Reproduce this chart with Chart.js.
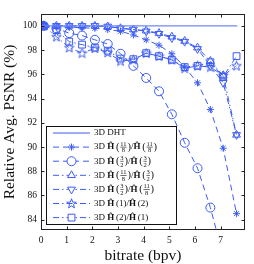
<!DOCTYPE html>
<html>
<head>
<meta charset="utf-8">
<script src="https://cdn.jsdelivr.net/npm/chart.js@4/dist/chart.umd.min.js"></script>
<style>
html, body { margin: 0; padding: 0; background: #fff; }
</style>
</head>
<body>
<canvas id="psnrChart" width="254" height="264"></canvas>
<script>
// data
const bitrate = [0.1, 0.6, 1.1, 1.6, 2.1, 2.6, 3.1, 3.6, 4.1, 4.6, 5.1, 5.6, 6.1, 6.6, 7.1, 7.62];
const dhtX = [0, 7.65];
const dhtY = [100, 100];
const h118_118 = [100, 99.95, 99.9, 99.85, 99.8, 99.7, 99.55, 99.25, 98.85, 98.4, 97.7, 96.6, 95.3, 93.1, 89.9, 84.5];
const h32_32   = [100, 99.8, 99.4, 99.2, 98.85, 98.5, 97.7, 96.7, 95.7, 94.6, 92.7, 90.35, 88.25, 85.0, 81.0];
const h118_32  = [100, 100, 100, 100, 100, 99.95, 99.8, 99.7, 99.6, 99.4, 99.1, 98.75, 98.2, 97.1, 95.9, 91.0];
const h32_118  = [100, 100, 100, 100, 100, 99.95, 99.8, 99.7, 99.55, 99.35, 99.0, 98.7, 98.1, 96.7, 95.3, 91.0];
const h1_2     = [100, 99.1, 98.2, 97.75, 98.15, 97.8, 97.1, 97.2, 97.75, 97.5, 97.2, 96.5, 96.7, 96.6, 95.9, 96.7];
const h2_1     = [100, 99.65, 98.7, 98.45, 98.2, 97.95, 97.3, 97.25, 97.75, 97.5, 97.2, 96.6, 96.7, 97.0, 95.8, 97.5];

const xTicks = [0, 1, 2, 3, 4, 5, 6, 7];
const yTicks = [84, 86, 88, 90, 92, 94, 96, 98, 100];

// legend arguments of H-hat (null = DHT)
const legendArgs = [null, ["11/8", "11/8"], ["3/2", "3/2"], ["11/8", "3/2"], ["3/2", "11/8"], ["1", "2"], ["2", "1"]];

const blue = "rgb(60,92,245)";
const serif = "'Liberation Serif', 'DejaVu Serif', serif";

// pentagram marker
const starImg = document.createElement("canvas");
starImg.width = 11;
starImg.height = 11;
(function () {
    const c = starImg.getContext("2d");
    c.strokeStyle = blue;
    c.lineWidth = 1;
    c.beginPath();
    for (let i = 0; i < 10; i++) {
        const r = i % 2 === 0 ? 5 : 2.1;
        const a = -Math.PI / 2 + i * Math.PI / 5;
        const px = 5.5 + r * Math.cos(a);
        const py = 5.8 + r * Math.sin(a);
        if (i === 0) c.moveTo(px, py); else c.lineTo(px, py);
    }
    c.closePath();
    c.stroke();
})();

function pts(xs, ys) {
    return ys.map((v, i) => ({ x: xs[i], y: v }));
}

function series(ys, style, dash, radius, rotation) {
    return {
        data: pts(bitrate, ys),
        borderColor: blue,
        backgroundColor: "transparent",
        borderWidth: 1,
        borderDash: dash,
        pointStyle: style,
        pointRadius: radius,
        pointRotation: rotation || 0,
        pointBorderColor: blue,
        pointBackgroundColor: "transparent",
        pointBorderWidth: 1,
        tension: 0,
        fill: false
    };
}

const dashed = [6, 4];
const dashDot = [6, 3, 1.5, 3];

const datasets = [
    {
        data: pts(dhtX, dhtY),
        borderColor: "rgb(110,135,250)",
        borderWidth: 1.2,
        pointRadius: 0,
        fill: false
    },
    series(h118_118, "star", dashed, 3.5),
    series(h32_32, "circle", dashed, 4.5),
    series(h118_32, "triangle", dashDot, 4.5),
    series(h32_118, "triangle", dashDot, 4.5, 180),
    series(h1_2, starImg, dashDot, 5),
    series(h2_1, "rect", dashDot, 4.8)
];

function drawArg(ctx, arg, x, y, fs) {
    if (arg.indexOf("/") < 0) {
        ctx.font = fs + "px " + serif;
        ctx.fillText("(" + arg + ")", x, y);
        return x + ctx.measureText("(" + arg + ")").width;
    }
    const [num, den] = arg.split("/");
    ctx.font = (fs + 1.5) + "px " + serif;
    ctx.fillText("(", x, y);
    x += ctx.measureText("(").width + 0.8;
    ctx.font = (fs - 2.5) + "px " + serif;
    const w = Math.max(ctx.measureText(num).width, ctx.measureText(den).width);
    ctx.textAlign = "center";
    ctx.fillText(num, x + w / 2, y - 3.2);
    ctx.fillText(den, x + w / 2, y + 3.6);
    ctx.textAlign = "left";
    ctx.fillRect(x, y - 0.3, w, 0.6);
    x += w + 0.8;
    ctx.font = (fs + 1.5) + "px " + serif;
    ctx.fillText(")", x, y);
    return x + ctx.measureText(")").width;
}

const framePlugin = {
    id: "frame",
    afterDatasetsDraw(chart) {
        const ctx = chart.ctx;
        const a = chart.chartArea;
        const xs = chart.scales.x;
        const ys = chart.scales.y;
        const L = Math.round(a.left) + 0.5, R = Math.round(a.right) - 0.5;
        const T = Math.round(a.top) + 0.5, B = Math.round(a.bottom) - 0.5;
        ctx.save();
        ctx.strokeStyle = "#222";
        ctx.lineWidth = 1;
        ctx.beginPath();
        xTicks.forEach(v => {
            const px = Math.round(xs.getPixelForValue(v)) + 0.5;
            ctx.moveTo(px, B); ctx.lineTo(px, B - 3);
            ctx.moveTo(px, T); ctx.lineTo(px, T + 3);
        });
        yTicks.forEach(v => {
            const py = Math.round(ys.getPixelForValue(v)) + 0.5;
            ctx.moveTo(L, py); ctx.lineTo(L + 3, py);
            ctx.moveTo(R, py); ctx.lineTo(R - 3, py);
        });
        ctx.stroke();

        // legend box
        const bx = 46.5, by = 126.5, bw = 130, bh = 98;
        ctx.fillStyle = "#fff";
        ctx.fillRect(bx, by, bw, bh);
        ctx.strokeStyle = "#111";
        ctx.strokeRect(bx, by, bw, bh);

        const fs = 9;
        chart.data.datasets.forEach((ds, i) => {
            const ry = 133 + i * 14.1;
            ctx.strokeStyle = blue;
            ctx.lineWidth = 1;
            ctx.setLineDash(ds.borderDash || []);
            ctx.beginPath();
            ctx.moveTo(53, ry);
            ctx.lineTo(90, ry);
            ctx.stroke();
            ctx.setLineDash([]);
            if (ds.pointRadius) {
                ctx.fillStyle = "#fff";
                Chart.helpers.drawPoint(ctx, {
                    pointStyle: ds.pointStyle,
                    radius: ds.pointRadius,
                    rotation: ds.pointRotation,
                    borderWidth: 1
                }, 71.5, ry);
            }
            ctx.fillStyle = "#111";
            ctx.textBaseline = "middle";
            ctx.textAlign = "left";
            let x = 94;
            const args = legendArgs[i];
            ctx.font = fs + "px " + serif;
            if (!args) {
                ctx.fillText("3D DHT", x, ry);
                return;
            }
            ctx.fillText("3D ", x, ry);
            x += ctx.measureText("3D ").width;
            ctx.font = "bold " + fs + "px " + serif;
            ctx.fillText("\u0124", x, ry);
            x += ctx.measureText("\u0124").width + 1.8;
            x = drawArg(ctx, args[0], x, ry, fs);
            ctx.font = fs + "px " + serif;
            ctx.fillText("/", x, ry);
            x += ctx.measureText("/").width;
            ctx.font = "bold " + fs + "px " + serif;
            ctx.fillText("\u0124", x, ry);
            x += ctx.measureText("\u0124").width + 1.8;
            drawArg(ctx, args[1], x, ry, fs);
        });
        ctx.restore();
    },
    afterDraw(chart) {
        const ctx = chart.ctx;
        const a = chart.chartArea;
        ctx.save();
        ctx.strokeStyle = "#222";
        ctx.lineWidth = 1;
        ctx.strokeRect(Math.round(a.left) + 0.5, Math.round(a.top) + 0.5,
            Math.round(a.right) - Math.round(a.left) - 1, Math.round(a.bottom) - Math.round(a.top) - 1);
        ctx.restore();
    }
};

new Chart(document.getElementById("psnrChart"), {
    type: "line",
    data: { datasets: datasets },
    options: {
        responsive: false,
        animation: false,
        layout: { padding: { top: 14, right: 9, left: 0, bottom: 0 } },
        plugins: { legend: { display: false }, tooltip: { enabled: false } },
        scales: {
            x: {
                type: "linear",
                min: 0,
                max: 7.95,
                grid: { display: false, drawTicks: false },
                border: { display: false },
                afterBuildTicks: s => { s.ticks = xTicks.map(v => ({ value: v })); },
                afterFit: s => { s.height = 34; },
                ticks: { color: "#111", padding: 5, font: { family: serif, size: 9.5 } },
                title: {
                    display: true,
                    text: "bitrate (bpv)",
                    color: "#111",
                    padding: { top: 0, bottom: 0 },
                    font: { family: serif, size: 15.5, lineHeight: 1 }
                }
            },
            y: {
                min: 83.15,
                max: 100.98,
                grid: { display: false, drawTicks: false },
                border: { display: false },
                afterBuildTicks: s => { s.ticks = yTicks.map(v => ({ value: v })); },
                afterFit: s => { s.width = 41; },
                ticks: { color: "#111", padding: 4, font: { family: serif, size: 9.5 } },
                title: {
                    display: true,
                    text: "Relative Avg. PSNR (%)",
                    color: "#111",
                    padding: { top: 1, bottom: 0 },
                    font: { family: serif, size: 15.5, lineHeight: 1.2 }
                }
            }
        }
    },
    plugins: [framePlugin]
});
</script>
</body>
</html>
